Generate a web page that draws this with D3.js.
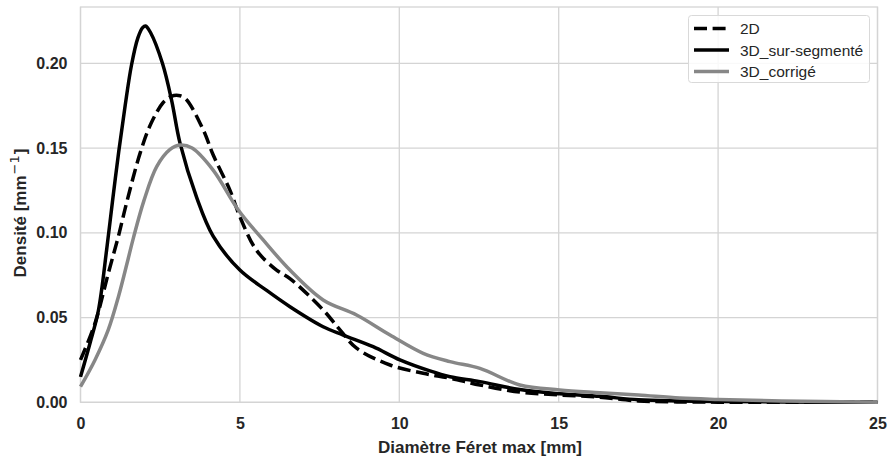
<!DOCTYPE html>
<html>
<head>
<meta charset="utf-8">
<script src="https://cdn.jsdelivr.net/npm/d3@7"></script>
<style>
  html, body { margin: 0; padding: 0; background: #fff; }
  svg { display: block; font-family: "Liberation Sans", Arial, Helvetica, sans-serif; }
</style>
</head>
<body>
<svg id="chart" width="888" height="457"></svg>
<script>
// Kernel density estimates of the max Feret diameter, sampled along x [mm]
const x2D = [0, 0.455, 0.87, 1.19, 1.45, 1.87, 2.2, 2.6, 2.85, 3.07, 3.3, 3.85, 4.16, 4.69, 5.0, 5.52, 6.15, 6.57, 7.61, 8.14, 8.66, 9.71, 10.75, 11.59, 12.53, 13.78, 15.03, 16.29, 17.5, 18.5, 20, 25];
const d2D = [0.025, 0.0466, 0.076, 0.098, 0.118, 0.147, 0.164, 0.177, 0.1805, 0.181, 0.179, 0.1607, 0.146, 0.125, 0.1095, 0.0897, 0.078, 0.073, 0.0545, 0.0427, 0.0319, 0.022, 0.0171, 0.0142, 0.0102, 0.006, 0.0043, 0.003, 0.0008, 0.0003, 0.0001, 0];

const xSur = [0, 0.3, 0.56, 0.82, 1.0, 1.2, 1.4, 1.6, 1.8, 1.95, 2.04, 2.2, 2.57, 2.86, 3.12, 3.64, 4.16, 5.0, 5.84, 6.57, 7.61, 8.24, 9.18, 10.02, 10.96, 11.59, 12.53, 13.78, 15.03, 16.29, 17.5, 18.8, 20, 22, 25];
const dSur = [0.015, 0.035, 0.054, 0.09, 0.118, 0.148, 0.175, 0.199, 0.215, 0.221, 0.222, 0.218, 0.20, 0.178, 0.153, 0.121, 0.098, 0.078, 0.066, 0.0564, 0.0446, 0.0397, 0.0328, 0.025, 0.0185, 0.0151, 0.0122, 0.0075, 0.005, 0.0035, 0.0015, 0.0008, 0.0005, 0.0002, 0];

const xCor = [0, 0.455, 0.87, 1.19, 1.5, 1.66, 1.99, 2.39, 2.8, 3.12, 3.5, 4.16, 4.95, 5.73, 6.57, 7.61, 8.66, 9.71, 10.75, 11.59, 12.53, 13.78, 15.03, 16.29, 17.5, 18.8, 20, 22, 25];
const dCor = [0.0092, 0.025, 0.0427, 0.0623, 0.085, 0.097, 0.119, 0.139, 0.149, 0.1518, 0.150, 0.137, 0.1135, 0.0958, 0.078, 0.0604, 0.0515, 0.0397, 0.0289, 0.024, 0.020, 0.0102, 0.0073, 0.0057, 0.0043, 0.0025, 0.0017, 0.0008, 0.0001];

const seriesNames = ["2D", "3D_sur-segmenté", "3D_corrigé"];
const xTicks = [0, 5, 10, 15, 20, 25];
const yTicks = [0.00, 0.05, 0.10, 0.15, 0.20];

const series = [
  { name: seriesNames[0], xs: x2D, ys: d2D, color: "#000000", dash: "13,5.6" },
  { name: seriesNames[1], xs: xSur, ys: dSur, color: "#000000", dash: null },
  { name: seriesNames[2], xs: xCor, ys: dCor, color: "#878787", dash: null }
];

const svg = d3.select("#chart");
const m = { left: 80.5, right: 877.5, top: 7, bottom: 402.3 };

const x = d3.scaleLinear().domain([0, 25]).range([m.left, m.right]);
const y = d3.scaleLinear().domain([0, 0.2332]).range([m.bottom, m.top]);

const grid = "#d4d4d4";
const textCol = "#262626";

// grid lines
const g = svg.append("g");
g.selectAll("line.vx").data(xTicks).join("line")
  .attr("x1", d => x(d)).attr("x2", d => x(d))
  .attr("y1", m.top).attr("y2", m.bottom)
  .attr("stroke", grid).attr("stroke-width", 1.3);
g.selectAll("line.hy").data(yTicks).join("line")
  .attr("x1", m.left).attr("x2", m.right)
  .attr("y1", d => y(d)).attr("y2", d => y(d))
  .attr("stroke", grid).attr("stroke-width", 1.3);

// frame
svg.append("rect")
  .attr("x", m.left).attr("y", m.top)
  .attr("width", m.right - m.left).attr("height", m.bottom - m.top)
  .attr("fill", "none").attr("stroke", grid).attr("stroke-width", 1.3);

// axes (labels only)
const xAxis = d3.axisBottom(x).tickValues(xTicks).tickSize(0).tickPadding(15.5).tickFormat(d3.format("d"));
const yAxis = d3.axisLeft(y).tickValues(yTicks).tickSize(0).tickPadding(13).tickFormat(d3.format(".2f"));

const gx = svg.append("g").attr("transform", `translate(0,${m.bottom})`).call(xAxis);
const gy = svg.append("g").attr("transform", `translate(${m.left},0)`).call(yAxis);
[gx, gy].forEach(a => {
  a.select(".domain").remove();
  a.selectAll("text")
    .attr("fill", textCol)
    .style("font-size", "16px")
    .style("font-weight", "bold")
    .style("font-family", "'Liberation Sans', Arial, sans-serif");
});

// axis titles
svg.append("text")
  .attr("x", (m.left + m.right) / 2 + 1).attr("y", 453)
  .attr("text-anchor", "middle")
  .attr("fill", textCol)
  .style("font-size", "17px").style("font-weight", "bold")
  .text("Diamètre Féret max [mm]");

const yl = svg.append("text")
  .attr("transform", `translate(26,213) rotate(-90)`)
  .attr("text-anchor", "middle")
  .attr("fill", textCol)
  .style("font-size", "17px").style("font-weight", "bold");
yl.append("tspan").text("Densité [mm");
yl.append("tspan").attr("dy", -7).attr("dx", 1).style("font-size", "13px").style("font-weight", "normal")
  .style("font-family", "'DejaVu Sans', sans-serif").text("−1");
yl.append("tspan").attr("dy", 7).attr("dx", 1).text("]");

// density curves
const line = d3.line()
  .x(d => x(d[0]))
  .y(d => y(d[1]))
  .curve(d3.curveCatmullRom.alpha(0.5));

svg.append("clipPath").attr("id", "plotclip")
  .append("rect").attr("x", m.left - 2).attr("y", m.top)
  .attr("width", m.right - m.left + 4).attr("height", m.bottom - m.top + 2);

const gl = svg.append("g").attr("clip-path", "url(#plotclip)");
series.forEach(s => {
  const pts = s.xs.map((v, i) => [v, s.ys[i]]);
  gl.append("path")
    .datum(pts)
    .attr("d", line)
    .attr("fill", "none")
    .attr("stroke", s.color)
    .attr("stroke-width", 3.5)
    .attr("stroke-linejoin", "round")
    .attr("stroke-dasharray", s.dash);
});

// legend
const lg = svg.append("g");
lg.append("rect")
  .attr("x", 688.5).attr("y", 15.5).attr("width", 181).attr("height", 67)
  .attr("rx", 3).attr("ry", 3)
  .attr("fill", "#ffffff").attr("fill-opacity", 0.85)
  .attr("stroke", "#d9d9d9").attr("stroke-width", 1);

const rows = [28.5, 50, 71.5];
series.forEach((s, i) => {
  lg.append("line")
    .attr("x1", 694).attr("x2", 729)
    .attr("y1", rows[i]).attr("y2", rows[i])
    .attr("stroke", s.color).attr("stroke-width", 3.5)
    .attr("stroke-dasharray", s.dash);
  lg.append("text")
    .attr("x", 740).attr("y", rows[i])
    .attr("dy", "0.36em")
    .attr("fill", textCol)
    .style("font-size", "15.5px")
    .text(s.name);
});
</script>
</body>
</html>
